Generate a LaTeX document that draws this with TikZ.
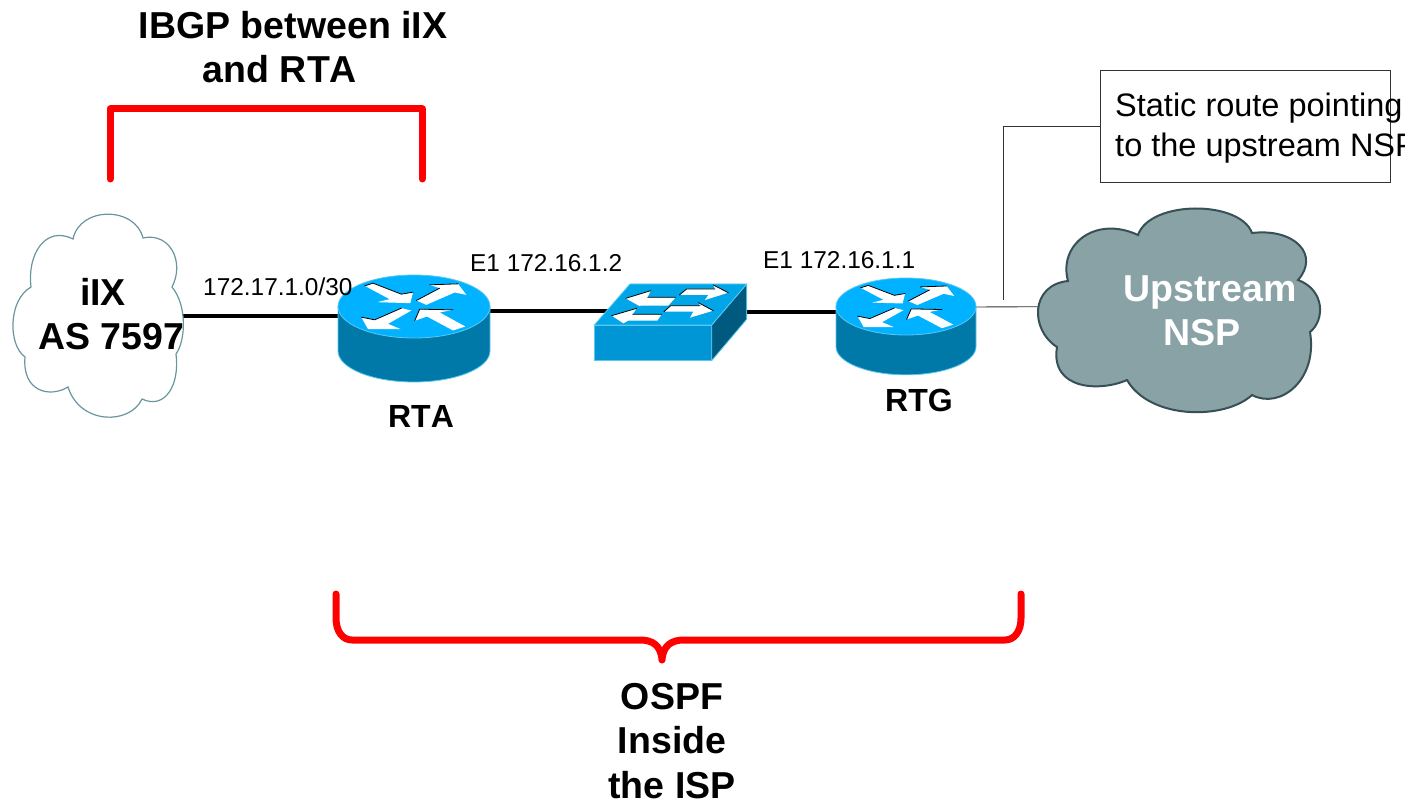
\documentclass[tikz,border=0pt]{standalone}
\usepackage{fontspec}
\setmainfont[Kerning=Off]{Liberation Sans}
\definecolor{rtop}{RGB}{0,178,255}
\definecolor{rside}{RGB}{0,121,168}
\definecolor{redge}{RGB}{90,200,240}
\definecolor{swtop}{RGB}{0,166,232}
\definecolor{swfront}{RGB}{0,150,214}
\definecolor{swside}{RGB}{0,90,128}
\definecolor{ixedge}{RGB}{105,150,158}
\definecolor{nspfill}{RGB}{136,162,166}
\definecolor{nspedge}{RGB}{55,80,85}
\definecolor{darkline}{RGB}{50,50,50}
\tikzset{
  x=1pt,y=-1pt,
  device/.style={inner sep=0pt,outer sep=0pt,draw=none,minimum width=#1},
  link/.style={line width=4.5pt,black},
  thinlink/.style={line width=.9pt,darkline},
  bracket/.style={line width=7pt,red,line cap=round,line join=round},
  small/.style={font=\fontsize{24.4}{29}\selectfont,inner sep=0pt,anchor=base west},
  devlabel/.style={font=\fontsize{32}{38}\bfseries\selectfont,inner sep=0pt,anchor=base},
  big/.style={font=\fontsize{37.5}{#1}\bfseries\selectfont,inner sep=0pt,align=center,text depth=0pt},
  arrowW/.style={fill=white,draw=none},
  arrowE/.style={line width=.8pt,black,line cap=round},
  routerpic/.pic={
    \fill[rside,draw=redge,line width=.8pt] (-76,0) -- (-76,44.5) .. controls (-76,61.6) and (-42,75.5) .. (0,75.5) .. controls (42,75.5) and (76,61.6) .. (76,44.5) -- (76,0) -- cycle;
    \fill[rtop,draw=redge,line width=.8pt] (0,0) ellipse [x radius=76pt,y radius=31.5pt];
    \begin{scope}[scale=.3333,shift={(-283,-140)}]
      \fill[arrowW] (135,78) -- (160,70) -- (245,103) -- (280,97) -- (272,130) -- (172,127) -- (210,118) -- cycle;
      \draw[arrowE] (135,78) -- (160,70) -- (245,103) -- (280,97);
      \fill[arrowW] (290,122) -- (360,85) -- (330,75) -- (415,72) -- (440,105) -- (405,98) -- (320,135) -- cycle;
      \draw[arrowE] (290,122) -- (360,85) (330,75) -- (415,72);
      \fill[arrowW] (275,152) -- (245,145) -- (165,180) -- (125,172) -- (145,208) -- (243,208) -- (205,192) -- cycle;
      \draw[arrowE] (245,145) -- (165,180) -- (125,172);
      \fill[arrowW] (285,183) -- (300,148) -- (400,150) -- (360,158) -- (437,200) -- (400,212) -- (322,170) -- cycle;
      \draw[arrowE] (285,183) -- (300,148) -- (400,150);
    \end{scope}
  }
}
\begin{document}
\begin{tikzpicture}
\useasboundingbox (0,0) rectangle (1410,802);
\fill[white] (0,0) rectangle (1410,802);

% named device areas
\node[device=170pt,minimum height=202pt] (ix) at (98,315) {};
\node[device=152pt,minimum height=107pt] (rta) at (414,328.5) {};
\node[device=152pt,minimum height=77pt] (sw) at (671,322.5) {};
\node[device=140pt,minimum height=97pt] (rtg) at (906,326.5) {};
\node[device=280pt,minimum height=204pt] (nsp) at (1178,310) {};
\node[draw=darkline,line width=.9pt,fill=white,minimum width=290pt,minimum height=112pt,inner sep=0pt] (note) at (1245,126) {};
\coordinate (lead) at (1003,300);

% connectors
\draw[link] ([yshift=-1pt]ix.east) -- ([yshift=12.5pt]rta.west);
\draw[link] ([yshift=17.5pt]rta.east) -- ([xshift=20pt,yshift=11.5pt]sw.west);
\draw[link] ([yshift=10.5pt]sw.east) -- ([yshift=14.5pt]rtg.west);
\draw[thinlink] ([yshift=19.5pt]rtg.east) -- ([yshift=3.3pt]nsp.west);
\draw[thinlink] (lead) |- (note.west);

% iIX cloud
\draw[ixedge,line width=1.2pt,fill=white]
  (31,287) .. controls (27,255) and (45,225) .. (73,239)
  .. controls (80,206) and (135,206) .. (143,238)
  .. controls (170,232) and (185,262) .. (172,287)
  .. controls (187,305) and (186,340) .. (176,354)
  .. controls (180,385) and (165,410) .. (142,399)
  .. controls (130,425) and (80,425) .. (68,387)
  .. controls (50,398) and (22,392) .. (25,357)
  .. controls (8,345) and (8,300) .. (31,287) -- cycle;

% Upstream cloud
\draw[nspedge,line width=2pt,fill=nspfill]
  (1068,281) .. controls (1058,245) and (1095,215) .. (1138,235)
  .. controls (1150,200) and (1240,200) .. (1252,233)
  .. controls (1295,228) and (1320,255) .. (1298,280)
  .. controls (1325,290) and (1325,320) .. (1310,332)
  .. controls (1318,380) and (1280,410) .. (1252,395)
  .. controls (1225,420) and (1150,420) .. (1127,380)
  .. controls (1100,392) and (1050,390) .. (1057,347)
  .. controls (1030,330) and (1030,285) .. (1068,281) -- cycle;

% routers
\pic at (414,306.5) {routerpic};
\pic[xscale=.921,yscale=.905] at (906,306.5) {routerpic};

% switch
\begin{scope}[shift={(580,270)},scale=.3333]
  \draw[redge,line width=.8pt,line join=round,fill=swfront] (43,165) -- (395,165) -- (395,272) -- (43,272) -- cycle;
  \draw[redge,line width=.8pt,line join=round,fill=swside] (395,165) -- (500,42) -- (500,148) -- (395,272) -- cycle;
  \draw[redge,line width=.8pt,line join=round,fill=swtop] (43,165) -- (150,42) -- (500,42) -- (395,165) -- cycle;
  \fill[arrowW] (137,85) -- (212,62) -- (203,82) -- (287,82) -- (265,107) -- (182,107) -- (178,108) -- cycle;
  \draw[arrowE] (137,85) -- (212,62) (203,82) -- (287,82);
  \fill[arrowW] (95,137) -- (170,115) -- (158,133) -- (245,133) -- (232,152) -- (145,152) -- (130,160) -- cycle;
  \draw[arrowE] (95,137) -- (170,115) (158,133) -- (245,133);
  \fill[arrowW] (298,75) -- (320,57) -- (405,57) -- (400,45) -- (445,68) -- (375,90) -- (385,75) -- cycle;
  \draw[arrowE] (298,75) -- (320,57) -- (405,57) (400,45) -- (445,68);
  \fill[arrowW] (252,125) -- (272,107) -- (360,107) -- (355,98) -- (400,122) -- (330,143) -- (340,125) -- cycle;
  \draw[arrowE] (252,125) -- (272,107) -- (360,107) (355,98) -- (400,122);
\end{scope}

% red brackets
\coordinate (ibgpL) at (110,179);
\coordinate (ibgpR) at (422,179);
\draw[bracket] (ibgpL) -- (110,109) -- (422,109) -- (ibgpR);
\coordinate (ospfL) at (336,594);
\coordinate (ospfR) at (1021,594);
\draw[bracket] (ospfL) -- (336,618) .. controls (336,632) and (343,640) .. (352,640) -- (640,640) .. controls (652,640) and (661,645) .. (662,660) .. controls (663,645) and (672,640) .. (684,640) -- (1005,640) .. controls (1014,640) and (1021,632) .. (1021,618) -- (ospfR);

% texts
\node[big=43.5] (tibgp) at (293,47) {IBGP between iIX\\\mbox{and RTA\hspace{26pt}}};
\node[big=44] (tix) at (111,314) {\mbox{iIX\hspace{16pt}}\\AS 7597};
\node[big=44] (tnsp) [text=white] at (1210,311) {Upstream\\\mbox{NSP\hspace{16pt}}};
\node[big=44.5] (tospf) at (672,740.5) {OSPF\\Inside\\the ISP};
\node[small] (t1) at (203,295) {172.17.1.0/30};
\node[small] (t2) at (470,272) {E1 172.16.1.2};
\node[small] (t3) at (763,269) {E1 172.16.1.1};
\node[devlabel] (lrta) at (421,427) {RTA};
\node[devlabel] (lrtg) at (919,411) {RTG};
\begin{scope}
  \clip (1090,60) rectangle (1404,190);
  \node[font=\fontsize{32.5}{40}\selectfont,inner sep=0pt,align=left,anchor=west] (tnote) at (1115,128) {Static route pointing\\to the upstream NSP};
\end{scope}
\end{tikzpicture}
\end{document}
